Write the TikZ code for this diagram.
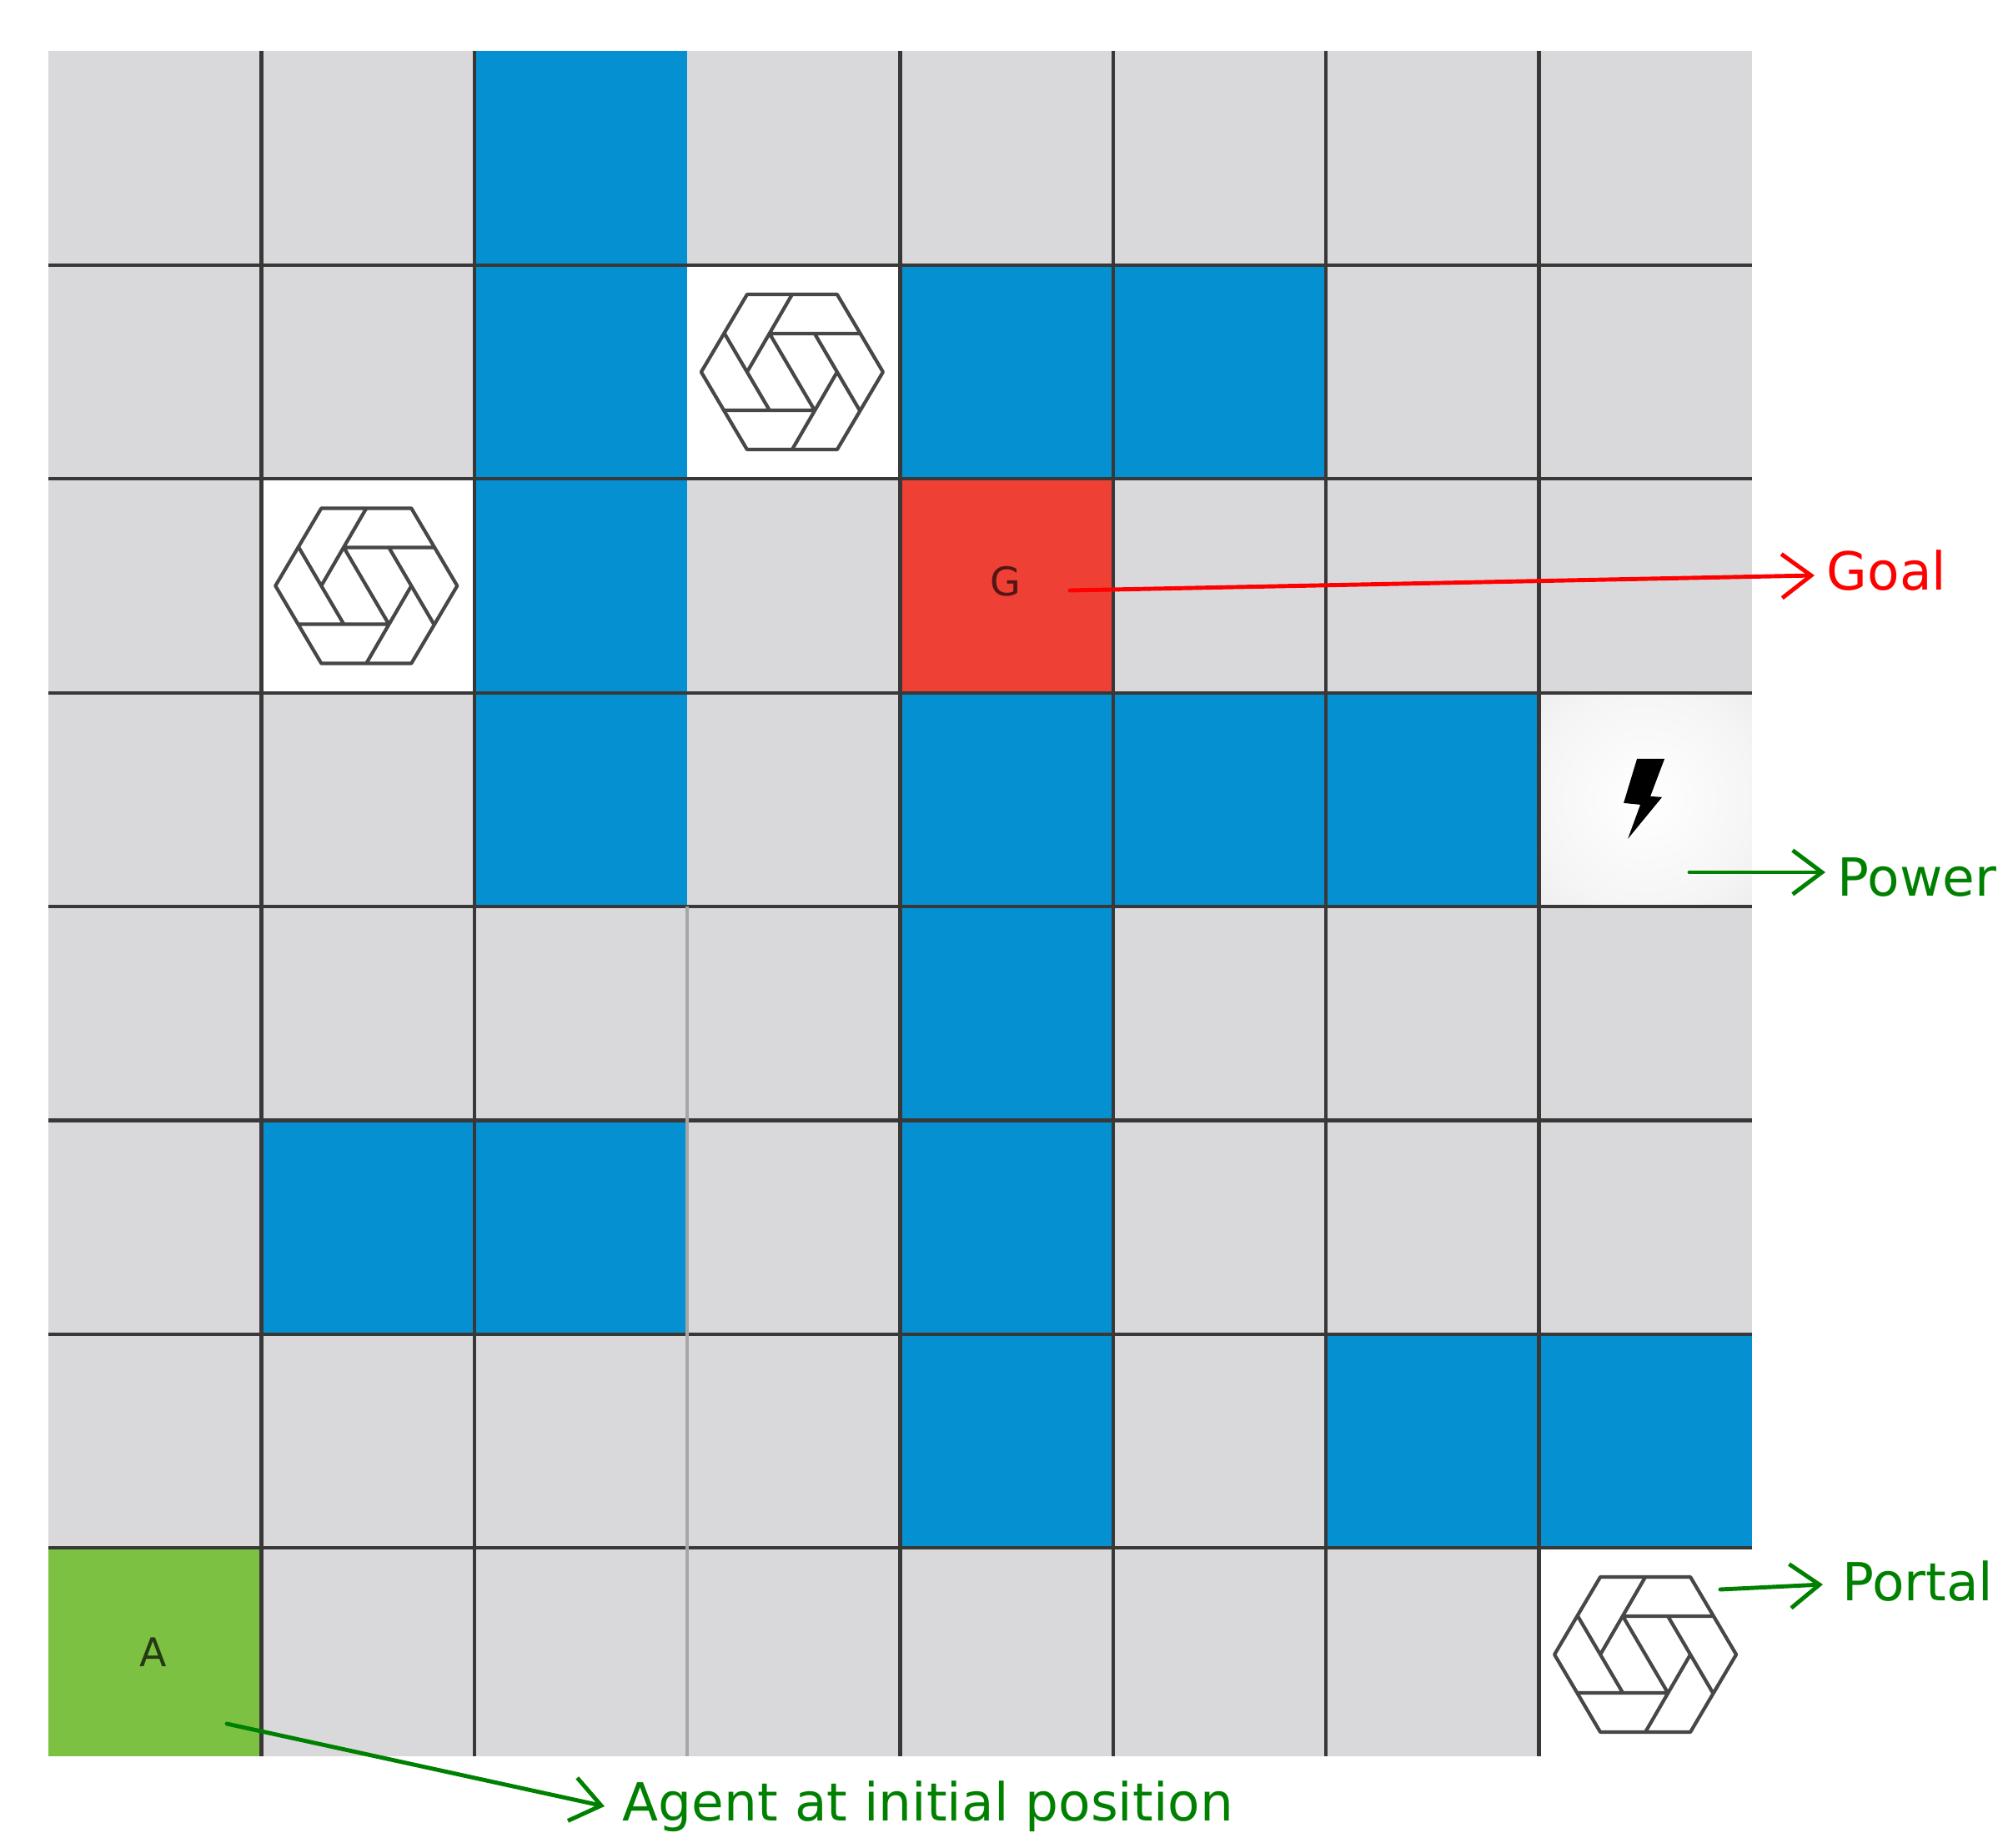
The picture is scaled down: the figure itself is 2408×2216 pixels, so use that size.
\documentclass[tikz,border=0pt]{standalone}
\usepackage{fontspec}
\setmainfont{DejaVu Sans}
\usetikzlibrary{arrows.meta}
\definecolor{cellgray}{HTML}{D9D9DB}
\definecolor{wallblue}{HTML}{0591D1}
\definecolor{goalred}{HTML}{EE4035}
\definecolor{agentgreen}{HTML}{7CC142}
\definecolor{labelgreen}{RGB}{0,128,0}
\pgfdeclareradialshading{powerglow}{\pgfpointorigin}{color(0bp)=(white); color(26bp)=(white!96!black); color(50bp)=(cellgray!75!white); color(70bp)=(cellgray)}
\tikzset{>={Straight Barb[length=10pt,width=15pt,line width=1.4pt]}}
\tikzset{
  cellbox/.style={minimum width=2.553cm, minimum height=2.564cm, inner sep=0pt, outer sep=0pt, fill=cellgray},
  lowbox/.style={cellbox, minimum height=2.5cm},
  wallbox/.style={cellbox, fill=wallblue},
  whitebox/.style={cellbox, fill=white},
  gridline/.style={line width=1.2pt, black!78},
  celltext/.style={font=\fontsize{13.5}{16}\selectfont, inner sep=0pt},
  notelabel/.style={font=\fontsize{17.9}{22}\selectfont, anchor=west, inner xsep=4pt, inner ysep=0pt},
  notearrow/.style={->, line width=1.4pt, line cap=round},
  portal/.pic={
    \draw[line width=1.2pt, black!72, line join=round] (-109,0) -- (-54,-93) -- (54,-93) -- (109,0) -- (54,93) -- (-54,93) -- cycle;
    \draw[line width=1.2pt, black!72] (0,-93) -- (-54,0) (-81,-46) -- (-27,46) (-81,46) -- (27,46) (-27,-46) -- (27,46) (0,93) -- (54,0) (27,-46) -- (81,46) (-27,-46) -- (81,-46);
  }
}
\begin{document}
\begin{tikzpicture}[x=0.01cm, y=-0.01cm]
  \useasboundingbox (0,0) rectangle (2408,2216);
  \foreach \r in {0,...,6}
    \foreach \c in {0,...,7}
      \node[cellbox] (c\r\c) at ({186+\c*255.3},{189.7+\r*256.4}) {};
  \foreach \c in {0,...,7}
    \node[lowbox] (c7\c) at ({186+\c*255.3},1981) {};
  \foreach \r/\c in {0/2,1/2,1/4,1/5,2/2,3/2,3/4,3/5,3/6,4/4,5/1,5/2,5/4,6/4,6/6,6/7}
    \node[wallbox] (w\r\c) at (c\r\c) {};
  \node[whitebox] (p13) at (c13) {};
  \node[whitebox] (p21) at (c21) {};
  \node[lowbox, fill=white] (p77) at (c77) {};
  \node[cellbox, shading=powerglow] (power) at (c37) {};
  \node[cellbox, fill=goalred] (goal) at (c24) {};
  \node[lowbox, fill=agentgreen] (agent) at (c70) {};
  \node[celltext, text=goalred!35!black] (goaltext) at ([shift={(-1,-5)}]goal.center) {G};
  \node[celltext, text=agentgreen!30!black] (agenttext) at ([shift={(-2,0)}]agent.center) {A};
  \foreach \k in {1,...,7}
    \draw[gridline] (c\k0.north west) -- (c\k7.north east);
  \foreach \k in {1,2,4,5,6,7}
    \draw[gridline] (c0\k.north west) -- (c7\k.south west);
  \draw[gridline, black!35] (c43.north west) -- (c73.south west);
  \pic at ([shift={(-2,0)}]p13.center) {portal};
  \pic at ([shift={(-2,0)}]p21.center) {portal};
  \pic at ([shift={(0,3)}]p77.center) {portal};
  \fill[black] ([shift={(-10,-49)}]power.center) -- ++(33,0) -- ++(-17,45) -- ++(14,1) -- ++(-41,50) -- ++(15,-41) -- ++(-20,-2) -- cycle;
  \coordinate (goalstart) at (1283,708);
  \coordinate (powerstart) at (2026,1046);
  \coordinate (portalstart) at (2063,1906);
  \coordinate (agentstart) at (272,2067);
  \node[notelabel, text=red] (goalnote) at (2176,684) {Goal};
  \node[notelabel, text=labelgreen] (powernote) at (2189,1052) {Power};
  \node[notelabel, text=labelgreen, inner xsep=6.5pt] (portalnote) at (2186,1896) {Portal};
  \node[notelabel, text=labelgreen, inner xsep=6pt] (agentnote) at (725,2166) {Agent at initial position};
  \draw[notearrow, red] (goalstart) -- ([shift={(0,6)}]goalnote.west);
  \draw[notearrow, labelgreen] (powerstart) -- (powernote.west |- powerstart);
  \draw[notearrow, labelgreen] (portalstart) -- ([shift={(0,4)}]portalnote.west);
  \draw[notearrow, labelgreen] (agentstart) -- (agentnote.west);
\end{tikzpicture}
\end{document}
